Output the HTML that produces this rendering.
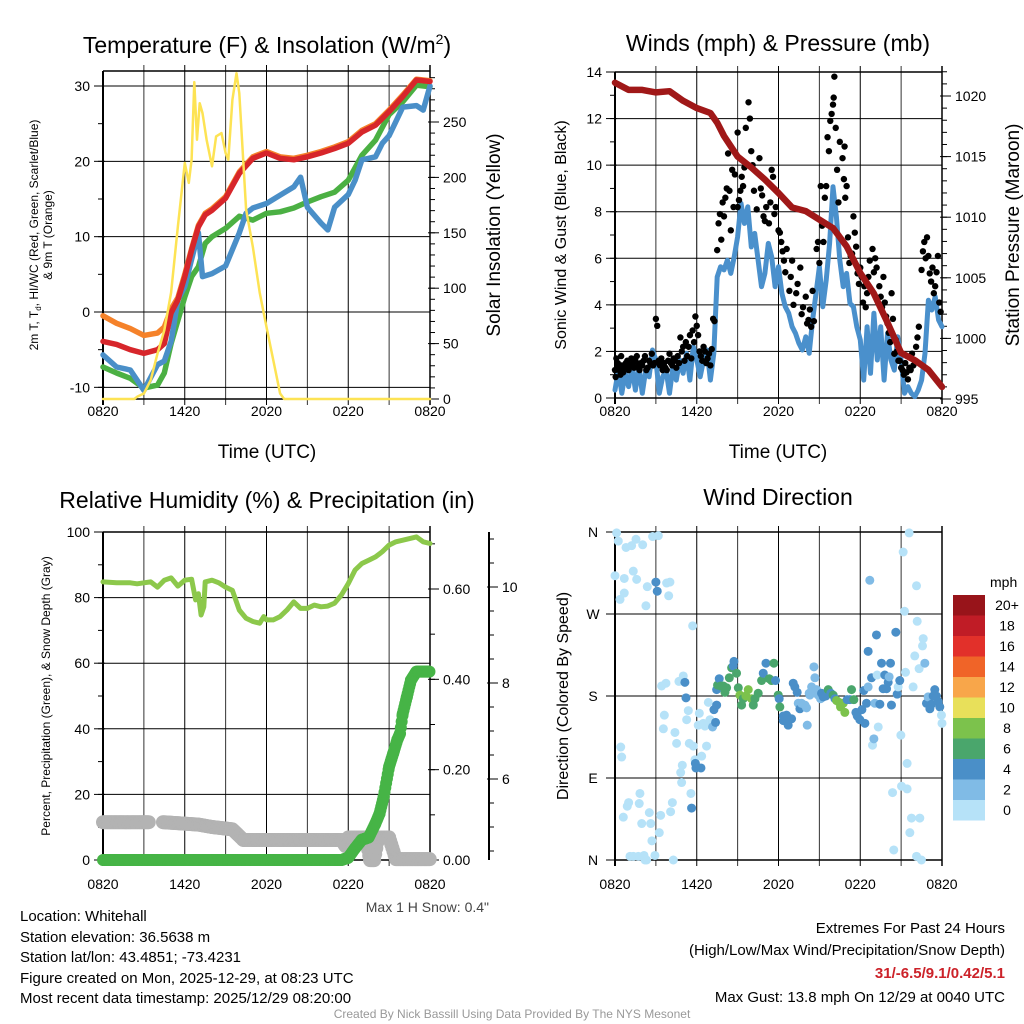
<!DOCTYPE html>
<html><head><meta charset="utf-8"><title>Whitehall Mesonet Meteogram</title>
<style>
html,body{margin:0;padding:0;background:#fff;}
svg{display:block;font-family:"Liberation Sans",Arial,sans-serif;}
</style></head>
<body>
<svg id="chart" width="1024" height="1024" viewBox="0 0 1024 1024" xmlns="http://www.w3.org/2000/svg">
<rect x="0" y="0" width="1024" height="1024" fill="#fff"/>
<text x="267" y="53" font-size="23" text-anchor="middle">Temperature (F) &amp; Insolation (W/m<tspan font-size="14" dy="-9">2</tspan><tspan dy="9">)</tspan></text>
<text x="778" y="51" font-size="23" text-anchor="middle">Winds (mph) &amp; Pressure (mb)</text>
<text x="267" y="508" font-size="23" text-anchor="middle">Relative Humidity (%) &amp; Precipitation (in)</text>
<text x="778" y="505" font-size="23" text-anchor="middle">Wind Direction</text>
<text x="267" y="458" font-size="19" text-anchor="middle">Time (UTC)</text>
<text x="778" y="458" font-size="19" text-anchor="middle">Time (UTC)</text>
<text transform="translate(38,235) rotate(-90)" font-size="12" text-anchor="middle">2m T, T<tspan font-size="8" dy="3">d</tspan><tspan dy="-3">, HI/WC (Red, Green, Scarlet/Blue)</tspan></text>
<text transform="translate(52,235) rotate(-90)" font-size="12" text-anchor="middle">&amp; 9m T (Orange)</text>
<text transform="translate(500,235) rotate(-90)" font-size="19" text-anchor="middle">Solar Insolation (Yellow)</text>
<text transform="translate(566,235) rotate(-90)" font-size="16" text-anchor="middle">Sonic Wind &amp; Gust (Blue, Black)</text>
<text transform="translate(1019,235) rotate(-90)" font-size="19" text-anchor="middle">Station Pressure (Maroon)</text>
<text transform="translate(50,696) rotate(-90)" font-size="12" text-anchor="middle">Percent, Precipitation (Green), &amp; Snow Depth (Gray)</text>
<text transform="translate(568,696) rotate(-90)" font-size="16" text-anchor="middle">Direction (Colored By Speed)</text>
<text x="489" y="912" font-size="14" fill="#444" text-anchor="end">Max 1 H Snow: 0.4"</text>
<g font-size="15" fill="#000">
<text x="20" y="921">Location: Whitehall</text>
<text x="20" y="942">Station elevation: 36.5638 m</text>
<text x="20" y="962">Station lat/lon: 43.4851; -73.4231</text>
<text x="20" y="983">Figure created on Mon, 2025-12-29, at 08:23 UTC</text>
<text x="20" y="1003">Most recent data timestamp: 2025/12/29 08:20:00</text>
</g>
<g font-size="15" text-anchor="end">
<text x="1005" y="933">Extremes For Past 24 Hours</text>
<text x="1005" y="955">(High/Low/Max Wind/Precipitation/Snow Depth)</text>
<text x="1005" y="978" fill="#cc2229" font-weight="bold">31/-6.5/9.1/0.42/5.1</text>
<text x="1005" y="1002">Max Gust: 13.8 mph On 12/29 at 0040 UTC</text>
</g>
<text x="512" y="1018" font-size="12" fill="#999" text-anchor="middle">Created By Nick Bassill Using Data Provided By The NYS Mesonet</text>
<text x="990" y="587" font-size="14">mph</text>
</svg>
<script>
// ---------- DATA ----------
const tempHours=[0,1,2,3,4,4.5,5,5.5,6,6.5,7,7.5,8,9,10,11,12,13,14,15,16,17,18,19,20,21,22,23,24];
const tempVals=[-3.9,-4.3,-5.0,-5.5,-5.0,-4.2,-0.1,1.6,4.7,8.2,11.3,12.9,13.5,15.1,18.4,20.4,21.1,20.4,20.2,20.6,21.1,21.7,22.4,23.9,24.8,26.6,28.6,30.8,30.6];
const temp9mVals=[-0.5,-1.5,-2.2,-3.1,-2.8,-2.0,0.4,1.9,5.0,8.4,11.5,13.1,13.7,15.3,18.6,20.6,21.3,20.6,20.4,20.8,21.3,21.9,22.6,24.1,25.0,26.8,28.8,30.9,30.7];
const dewHours=[0,1,2,3,4,4.5,5,5.5,6,6.5,7,7.5,8,9,10,11,12,13,14,15,16,17,18,19,20,21,22,23,24];
const dewVals=[-7.3,-8.1,-8.8,-10.1,-9.7,-8.1,-4.2,-1.1,2.0,4.7,6.0,9.1,10.0,11.1,12.7,12.2,13.1,13.3,13.8,14.6,15.3,15.9,17.5,20.8,22.8,26.2,27.9,30.1,29.9];
const wcHours=[0,1,2,3,4,4.5,5,5.5,6,6.5,7,7.3,8,9,10,10.5,11,12,13,14,14.5,15,16,16.5,17,18,18.5,19,20,20.5,21,22,23,23.5,24];
const wcVals=[-5.7,-7.3,-7.7,-10.4,-7.0,-6.5,-3.9,1.6,3.4,7.0,10.5,4.7,5.1,6.1,10.5,13.1,13.8,14.4,15.5,16.6,17.9,13.9,11.8,10.9,13.9,15.6,17.5,20.2,20.6,22.4,23.4,27.2,27.4,26.8,30.0];
const insHours=[0,2,2.3,2.5,3,3.5,4,4.5,5,5.5,6,6.3,6.5,6.7,6.9,7.1,7.3,7.6,8,8.3,8.7,9,9.2,9.5,9.8,10,10.5,11,11.5,12,12.5,13,13.3,24];
const insVals=[0,0,0,2,5,17,41,62,96,156,213,195,216,286,234,267,258,234,210,237,240,222,216,270,294,276,171,137,96,65,35,5,0,0];

const windHours=[0,0.25,0.5,0.75,1,1.25,1.5,1.75,2,2.25,2.5,2.75,3,3.25,3.5,3.75,4,4.25,4.5,4.75,5,5.25,5.5,5.75,6,6.25,6.5,6.75,7,7.25,7.5,7.75,8,8.25,8.5,8.75,9,9.25,9.5,9.75,10,10.25,10.5,10.75,11,11.25,11.5,11.75,12,12.25,12.5,12.75,13,13.25,13.5,13.75,14,14.25,14.5,14.75,15,15.25,15.5,15.75,16,16.25,16.5,16.75,17,17.25,17.5,17.75,18,18.25,18.5,18.75,19,19.25,19.5,19.75,20,20.25,20.5,20.75,21,21.25,21.5,21.75,22,22.25,22.5,22.75,23,23.25,23.5,23.75,24];
const windVals=[0.34,1.2,0.2,1.06,0.49,1.34,0.34,1.34,0.2,1.2,0.91,2.06,1.63,0.2,0.91,1.2,0.2,1.34,0.77,1.63,1.06,1.92,0.77,2.2,1.63,0.91,1.63,2.06,0.77,1.92,5.2,5.64,5.5,5.92,5.35,6.06,6.92,8.36,7.5,8.21,6.49,7.07,5.92,4.78,5.35,6.64,6.06,4.78,5.64,4.49,3.92,3.64,3.06,2.78,2.35,2.06,2.63,1.92,3.35,4.49,5.64,3.92,5.06,6.64,9.07,7.78,5.92,4.78,5.35,4.06,3.92,3.06,2.49,0.77,3.06,1.06,3.64,1.63,3.06,0.77,2.78,1.63,1.2,2.63,1.63,0.2,0.49,0.2,0.06,0.34,0.77,1.92,4.2,3.78,4.35,3.35,3.06];
const gustHours=[0,0.1,0.2,0.4,0.5,0.7,0.9,1.1,1.3,1.5,1.7,1.9,2.1,2.3,2.5,2.7,2.9,3.0,3.1,3.3,3.5,3.7,3.9,4.1,4.3,4.5,4.7,4.8,5.0,5.2,5.3,5.5,5.7,5.9,6.0,6.2,6.4,6.6,6.8,7.0,7.2,7.5,7.6,7.8,8.0,8.3,8.4,8.5,8.7,9.0,9.0,9.3,9.4,9.6,9.8,9.9,10.0,10.2,10.6,10.8,10.9,11.1,11.3,11.5,11.6,11.8,12.0,12.1,12.2,12.4,12.6,12.9,13.0,13.3,13.6,13.8,14.0,14.2,14.4,14.6,14.8,14.9,15.1,15.3,15.5,15.6,15.7,15.8,15.9,16.0,16.05,16.1,16.2,16.5,16.7,16.8,16.85,16.9,17.0,17.3,17.5,17.6,17.7,17.8,18.1,18.3,18.5,18.9,19.2,19.5,19.7,19.9,20.1,20.3,20.5,20.6,20.8,21.0,21.2,21.4,21.6,21.8,22.0,22.3,22.5,22.7,22.9,23.0,23.1,23.3,23.5,23.7,
0.05,0.15,0.3,0.45,0.6,0.8,1.0,1.2,1.4,1.6,1.8,2.0,2.2,2.4,2.6,2.8,3.2,3.4,3.6,3.8,4.0,4.2,4.4,4.6,4.9,5.1,5.4,5.6,5.8,6.1,6.3,6.5,6.7,6.9,7.1,7.3,7.7,7.9,8.1,8.2,8.6,8.8,9.1,9.2,9.5,10.1,10.4,10.7,11.0,11.4,11.7,12.3,12.5,12.8,13.1,13.4,13.7,14.1,14.3,14.5,15.0,15.2,15.4,16.3,16.4,17.1,17.2,17.4,17.9,18.0,18.2,18.4,18.6,18.7,19.0,19.1,19.4,19.6,19.8,20.0,20.2,20.4,20.7,20.9,21.1,21.3,21.5,21.7,21.9,22.1,22.2,22.6,22.8,23.2,23.4,23.6,23.8,23.9];
const gustVals=[1.2,1.7,1.5,1.0,1.4,1.3,1.6,1.4,1.5,1.6,1.4,1.5,1.6,1.2,1.6,1.9,1.5,3.4,3.1,1.4,1.2,1.3,1.6,1.5,1.7,1.3,1.5,2.6,2.2,2.4,1.8,2.7,2.9,3.5,3.1,2.0,1.6,2.0,1.7,1.4,3.4,6.35,7.5,6.8,7.8,10.5,8.9,7.2,8.2,11.4,8.2,9.5,9.1,11.6,12.7,12.0,10.6,8.9,10.3,8.7,7.8,8.2,7.5,9.8,9.5,8.2,7.2,7.1,6.7,5.9,6.4,5.2,5.9,4.5,5.6,3.9,4.35,3.35,3.06,3.3,6.4,6.7,9.1,6.7,9.1,11.2,10.6,11.9,12.2,12.6,12.9,13.8,11.6,11.0,10.3,9.4,10.8,8.6,9.1,6.1,7.8,7.1,6.5,5.35,5.2,4.8,4.5,6.4,5.6,4.35,5.2,3.5,2.8,4.5,1.9,2.5,1.6,1.3,1.0,1.1,1.3,1.9,1.6,3.06,5.5,6.7,6.9,6.1,5.35,5.6,4.8,6.1,
0.9,1.3,1.2,1.8,1.1,1.5,1.2,1.7,1.3,1.8,1.2,1.4,1.8,1.3,1.5,1.4,1.6,1.7,1.5,1.2,1.9,1.4,1.6,1.8,2.0,1.6,2.2,1.7,2.4,2.7,1.8,2.2,1.5,1.9,2.1,3.3,7.9,8.4,8.6,9.0,9.8,9.6,8.5,8.9,9.9,10.0,8.1,9.0,7.6,8.4,7.9,6.3,5.4,4.6,4.0,4.9,3.6,3.2,3.8,4.6,5.8,7.4,8.6,9.8,8.4,6.9,5.8,6.2,4.9,5.6,4.1,3.9,5.2,5.9,5.4,6.0,4.8,3.9,4.1,3.2,2.4,3.4,2.0,1.6,1.2,1.5,0.8,1.2,1.4,2.2,2.6,6.3,6.0,5.0,4.5,5.4,4.1,3.7];
const presHours=[0,1,2,3,4,5,6,7,7.5,8,9,10,11,12,13,14,15,16,17,18,19,20,21,22,23,24];
const presVals=[1021.1,1020.5,1020.5,1020.3,1020.4,1019.6,1019.0,1018.6,1017.8,1016.7,1015.0,1014.1,1013.1,1012.0,1010.8,1010.5,1009.8,1009.1,1007.6,1005.4,1003.7,1001.3,998.8,998.2,997.4,996.0];

const rhHours=[0,1,2,2.5,3,3.5,4,4.5,5,5.5,6,6.5,6.8,7,7.2,7.4,7.5,8,8.5,9,9.5,10,10.5,11,11.5,11.8,12,12.5,13,13.5,14,14.5,15,15.5,16,16.5,17,17.5,18,18.5,19,19.5,20,20.5,21,21.5,22,22.5,23,23.5,24];
const rhVals=[84.8,84.5,84.5,84.2,84.5,84.8,83.2,85.3,86.0,83.5,85.3,85.6,79.3,81.2,74.7,77.2,84.8,85.3,84.5,83.2,82.2,76.2,73.7,72.7,72.2,74.2,73.2,73.2,74.2,76.2,78.7,76.7,76.7,77.7,77.2,77.4,78.3,80.8,84.3,88.4,90.4,91.4,92.4,94.0,96.0,97.0,97.5,98.0,98.5,97.0,96.5];
const precipHours=[0,17.5,18,18.5,19,19.5,20,20.3,20.6,21,21.3,21.6,21.8,22,22.3,22.6,23,24];
const precipVals=[0,0,0.005,0.026,0.045,0.05,0.081,0.103,0.14,0.207,0.236,0.266,0.28,0.324,0.361,0.398,0.417,0.417];
const snowHours=[0,3.4,4.4,7,8,9.5,10.3,17.5,17.8,18,19.3,19.6,19.9,20.2,21,21.5,24];
const snowVals=[5.1,5.1,5.1,5.05,5.0,4.95,4.73,4.73,4.6,4.78,4.78,4.31,4.31,4.78,4.78,4.33,4.33];

const wdHours=[0.12,0.24,0,0.68,0.81,1.22,1.54,1.34,1.59,2.03,2.76,3.18,0.37,0.68,2.27,2.37,3.0,3.1,3.79,4.03,3.94,5.7,0.42,0.49,0.61,0.9,1.0,1.78,1.83,1.96,2.52,2.62,2.71,3.25,3.35,4.08,4.21,1.1,1.34,1.71,2.13,2.2,2.93,4.28,2.32,3.42,3.74,3.55,3.62,4.4,4.52,4.69,5.01,5.13,5.21,5.26,5.38,4.94,4.82,4.89,5.45,5.75,5.57,5.62,5.87,5.94,5.9,6.31,6.36,6.19,6.11,6.48,6.6,6.72,6.85,6.97,7.16,7.26,7.38,7.46,7.46,7.53,7.65,7.75,7.95,8.07,8.19,8.39,8.56,8.68,8.73,8.92,9.05,9.17,9.29,9.41,9.61,9.78,10.02,10.15,10.27,10.51,10.76,10.88,11.08,11.32,11.49,11.66,11.78,11.98,12.05,12.1,12.35,12.35,12.59,12.71,12.96,13.08,13.2,13.37,13.45,13.57,13.69,13.94,14.06,14.11,14.25,14.3,14.43,14.6,14.67,14.79,14.91,15.09,15.16,15.28,15.48,15.65,15.84,16.01,16.14,16.26,16.45,16.55,16.75,16.87,17.04,17.24,17.36,17.53,17.68,17.78,17.97,18.12,18.26,18.34,18.46,18.58,18.58,18.7,18.83,18.9,19.0,19.07,19.19,19.24,19.32,19.44,19.56,19.68,19.8,19.93,20.05,20.12,20.22,20.29,20.37,20.46,20.61,20.71,20.78,20.9,20.98,21.03,21.15,21.25,21.32,21.44,21.44,21.59,21.64,21.76,21.88,22.0,22.13,22.18,22.32,22.37,22.13,22.49,22.57,22.62,22.74,22.86,22.98,23.11,23.23,23.35,23.47,23.59,23.72,23.84,23.96,24.0];
const wdDirs=[359,350,312,309,343,345,352,317,308,346,355,356,286,293,279,300,305,295,304,305,290,257,124,113,47,59,63,62,73,40,52,40,21,30,49,53,63,4,4,4,5,0,5,0,0,191,194,144,159,140,128,196,202,195,178,154,164,104,96,85,128,125,73,57,110,101,106,101,114,161,148,150,147,125,173,154,146,165,151,170,187,192,199,191,191,184,189,200,211,213,218,205,189,181,170,177,180,187,177,170,177,183,197,205,216,199,197,216,197,181,177,168,153,158,159,148,155,194,190,184,172,166,172,170,167,148,183,181,190,212,200,187,181,177,183,179,180,187,183,181,177,175,173,168,172,162,176,176,187,176,162,158,154,165,186,150,172,190,229,307,200,126,133,172,247,203,146,171,216,188,203,188,195,201,216,170,74,11,250,182,190,197,137,81,338,273,206,106,78,359,30,46,190,224,301,262,210,46,4,0,235,243,216,172,179,166,171,180,187,180,174,168,159,150,145,172];
const wdSpeeds=[1,1,1,1,1,1,1,1,1,1,1,1,1,1,1,1,5,5,1,1,1,1,1,1,1,1,1,1,1,1,1,1,1,1,1,1,1,1,1,1,1,1,1,1,1,1,1,1,1,1,1,1,1,5,5,1,1,1,1,1,1,1,1,5,1,5,5,5,1,1,1,1,1,1,1,1,3,5,5,5,5,7,5,7,7,7,7,7,7,5,5,7,7,9,7,7,9,9,9,7,7,7,7,5,5,7,7,7,5,7,5,7,5,5,5,5,5,5,5,5,3,5,3,3,3,3,3,3,3,3,3,3,3,3,5,5,5,7,5,7,5,9,9,9,9,9,5,5,7,7,5,5,5,5,5,5,5,3,5,3,5,1,3,3,5,1,1,5,5,5,5,5,5,3,5,5,1,1,5,5,1,5,1,1,1,1,1,1,1,1,1,1,1,1,1,1,1,1,1,1,1,1,3,5,3,5,5,5,5,5,5,5,1,1];

const cbLabels=['0','2','4','6','8','10','12','14','16','18','20+'];
const cbColors=['#b6e2f8','#80bbe6','#4a8fc8','#4aa66c','#7cc24c','#e8e05a','#f8a64a','#f06428','#e2302a','#c01c26','#98141a'];

// ---------- HELPERS ----------
const NS='http://www.w3.org/2000/svg';
const svg=document.getElementById('chart');
function mk(tag,attrs,parent){const e=document.createElementNS(NS,tag);for(const k in attrs)e.setAttribute(k,attrs[k]);(parent||svg).appendChild(e);return e;}
function lin(d0,r0,d1,r1){return v=>r0+(v-d0)*(r1-r0)/(d1-d0);}
function grp(){return mk('g',{});}

const P1={x0:103,x1:430,y0:71,y1:399,lab:17};
const P2={x0:615,x1:942,y0:72,y1:398,lab:18};
const P3={x0:103,x1:430,y0:532,y1:860,lab:29};
const P4={x0:615,x1:942,y0:532,y1:860,lab:29};
function xs(P){return lin(0,P.x0,24,P.x1);}
const tempY=lin(0,312,30,86), insY=lin(0,399,250,122);
const windY=lin(0,398,14,72), presY=lin(995,399,1020,96);
const rhY=lin(0,860,100,532), prY=lin(0,860,0.6,589), snowY=lin(6,779,10,587);
const dirY=lin(0,860,360,532);
const xLabels=['0820','1420','2020','0220','0820'];

function frame(P,name,hgrid){
  const g=grp();
  
  
  for(let h=3;h<24;h+=3){const x=xs(P)(h);
    mk('line',{x1:x,y1:P.y0-6,x2:x,y2:P.y1+6,stroke:h%6===0?'#000':'#333','stroke-width':1},g);}
  hgrid.forEach(y=>mk('line',{x1:P.x0,y1:y,x2:P.x1,y2:y,stroke:'#000','stroke-width':1},g));
  mk('line',{x1:P.x0,y1:P.y0,x2:P.x1,y2:P.y0,stroke:'#000','stroke-width':1.5},g);
  mk('line',{x1:P.x0,y1:P.y1,x2:P.x1,y2:P.y1,stroke:'#000','stroke-width':1.5},g);
  mk('line',{x1:P.x0,y1:P.y0,x2:P.x0,y2:P.y1+6,stroke:'#000','stroke-width':2},g);
  mk('line',{x1:P.x1,y1:P.y0-6,x2:P.x1,y2:P.y1+6,stroke:'#000','stroke-width':1.5},g);
  xLabels.forEach((s,i)=>{const t=mk('text',{x:xs(P)(i*6),y:P.y1+P.lab,'font-size':14,'text-anchor':'middle'},g);t.textContent=s;});
  return g;
}
function yTicks(P,scale,vals,fmt,side,minor,xAxis){
  const g=grp();
  
  
  const ax=xAxis!==undefined?xAxis:(side==='left'?P.x0:P.x1);
  const d=side==='left'?-1:1;
  (minor||[]).forEach(v=>{const y=scale(v);mk('line',{x1:ax,y1:y,x2:ax+d*5,y2:y,stroke:'#000','stroke-width':1},g);});
  vals.forEach(v=>{const y=scale(v);mk('line',{x1:ax-d*2,y1:y,x2:ax+d*9,y2:y,stroke:'#000','stroke-width':1},g);
    const t=mk('text',{x:ax+d*13,y:y+5,'font-size':14,'text-anchor':side==='left'?'end':'start'},g);t.textContent=fmt(v);});
  return g;
}
function range(a,b,s){const r=[];for(let v=a;v<=b+1e-9;v+=s)r.push(+v.toFixed(3));return r;}
function pline(hours,vals,X,Y,color,w){
  const pts=hours.map((h,i)=>X(h).toFixed(1)+','+Y(vals[i]).toFixed(1)).join(' ');
  return mk('polyline',{points:pts,fill:'none',stroke:color,'stroke-width':w,'stroke-linejoin':'round','stroke-linecap':'round'});
}

// ---------- PANEL 1 ----------
frame(P1,'temp-panel',[30,20,10,0,-10].map(tempY));
yTicks(P1,tempY,[-10,0,10,20,30],v=>String(v),'left',range(-10,30,5));
yTicks(P1,insY,[0,50,100,150,200,250],v=>String(v),'right',range(0,290,10));
const X1=xs(P1);
let e;
e=pline(tempHours,temp9mVals,X1,tempY,'#f5822a',5.5);


e=pline(dewHours,dewVals,X1,tempY,'#4bb043',5.5);


e=pline(wcHours,wcVals,X1,tempY,'#4a8fc8',5.5);


e=pline(tempHours,tempVals,X1,tempY,'#d7262b',5.5);


e=pline(insHours,insVals,X1,insY,'#fde354',2.5);



// ---------- PANEL 2 ----------
frame(P2,'wind-panel',range(0,14,2).map(windY));
yTicks(P2,windY,range(0,14,2),v=>String(v),'left',range(0,14,1));
yTicks(P2,presY,[995,1000,1005,1010,1015,1020],v=>String(v),'right',range(995,1022,1));
const X2=xs(P2);
e=pline(windHours,windVals,X2,windY,'#4a90cc',5);


const gg=grp();


gustHours.forEach((h,i)=>{const c=mk('circle',{cx:X2(h),cy:windY(gustVals[i]),r:3.2,fill:'#000'},gg);
  
  });
e=pline(presHours,presVals,X2,presY,'#a01818',6.5);



// ---------- PANEL 3 ----------
frame(P3,'rh-panel',[20,40,60,80].map(rhY));
yTicks(P3,rhY,range(0,100,20),v=>String(v),'left',range(0,100,10));
yTicks(P3,prY,[0,0.2,0.4,0.6],v=>v.toFixed(2),'right',range(0,0.7,0.1));
const snowAxis=mk('line',{x1:489,y1:P3.y0,x2:489,y2:P3.y1,stroke:'#000','stroke-width':2});


yTicks(P3,snowY,[6,8,10],v=>String(v),'right',range(4.5,11,0.5),489);
const X3=xs(P3);
const sg=grp();


for(let i=0;i<snowHours.length-1;i++){
  if(i===1)continue; // data gap
  const h0=snowHours[i],h1=snowHours[i+1];
  for(let h=h0;h<=h1;h+=0.08){const v=snowVals[i]+(snowVals[i+1]-snowVals[i])*(h-h0)/(h1-h0||1);
    mk('circle',{cx:X3(h),cy:snowY(v),r:7,fill:'#b3b3b3'},sg);}
}
e=pline(rhHours,rhVals,X3,rhY,'#8cc84b',5);


const pg=grp();


for(let i=0;i<precipHours.length-1;i++){
  const h0=precipHours[i],h1=precipHours[i+1];
  for(let h=h0;h<=h1;h+=0.06){const v=precipVals[i]+(precipVals[i+1]-precipVals[i])*(h-h0)/(h1-h0);
    mk('circle',{cx:X3(h),cy:prY(v),r:6,fill:'#46b446'},pg);}
}

// ---------- PANEL 4 ----------
frame(P4,'wdir-panel',[90,180,270].map(dirY));
const dl=grp();


[[360,'N'],[270,'W'],[180,'S'],[90,'E'],[0,'N']].forEach(([v,s])=>{const y=dirY(v);
  mk('line',{x1:P4.x0-9,y1:y,x2:P4.x0,y2:y,stroke:'#000'},dl);
  const t=mk('text',{x:P4.x0-22,y:y+5,'font-size':14,'text-anchor':'middle'},dl);t.textContent=s;});
const X4=xs(P4);
const wg=grp();


wdHours.forEach((h,i)=>{const idx=Math.min(10,Math.floor(wdSpeeds[i]/2));
  const c=mk('circle',{cx:X4(h),cy:dirY(wdDirs[i]),r:4.5,fill:cbColors[idx]},wg);
  
  });

// colorbar
const cb=grp();


cbLabels.forEach((s,i)=>{const y=800-i*20.5;
  const r=mk('rect',{x:953,y:y,width:32,height:20.5,fill:cbColors[i]},cb);
  
  
  const t=mk('text',{x:1007,y:y+15,'font-size':14,'text-anchor':'middle'},cb);t.textContent=s;});
</script>
</body></html>
